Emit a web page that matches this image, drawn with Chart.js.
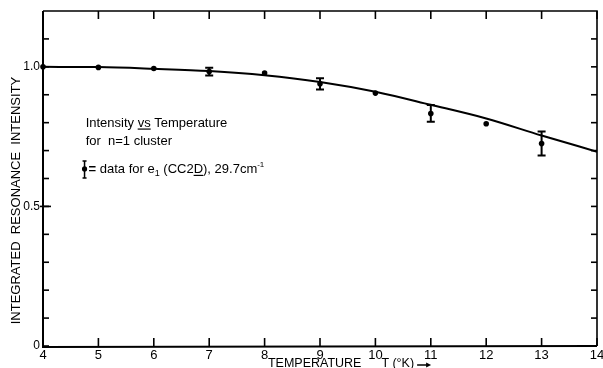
<!DOCTYPE html>
<html>
<head>
<meta charset="utf-8">
<script src="https://cdn.jsdelivr.net/npm/chart.js@4/dist/chart.umd.min.js"></script>
<style>
  html, body { margin: 0; padding: 0; background: #fff; }
  canvas { display: block; }
</style>
</head>
<body>
<canvas id="c" width="603" height="368"></canvas>
<script>
// ---- data ----
const temperatures = [4, 5, 6, 7, 8, 9, 10, 11, 12, 13];
const intensities  = [1.0, 0.998, 0.994, 0.983, 0.978, 0.939, 0.906, 0.833, 0.796, 0.725];
const errors       = [0, 0, 0, 0.014, 0, 0.02, 0, 0.03, 0, 0.043];
const curveT       = [4, 5, 6, 7, 8, 9, 10, 11, 12, 13, 14];
const curveI       = [1.0, 0.999, 0.993, 0.985, 0.970, 0.946, 0.911, 0.864, 0.815, 0.754, 0.696];
const xTickValues  = [4, 5, 6, 7, 8, 9, 10, 11, 12, 13, 14];
const yLabelMap    = { "0": "0", "0.5": "0.5", "1": "1.0" };

const FONT = "'Liberation Sans', Arial, sans-serif";

const framePlugin = {
  id: 'frame',
  afterDraw(chart) {
    const ctx = chart.ctx;
    const xs = chart.scales.x, ys = chart.scales.y;
    const a = chart.chartArea;
    ctx.save();
    ctx.strokeStyle = '#000';
    ctx.lineCap = 'butt';
    // frame
    ctx.lineWidth = 1.6;
    ctx.beginPath();
    ctx.moveTo(a.left, a.top); ctx.lineTo(a.right, a.top); ctx.lineTo(a.right, a.bottom);
    ctx.stroke();
    ctx.lineWidth = 2;
    ctx.beginPath();
    ctx.moveTo(a.left, a.top); ctx.lineTo(a.left, a.bottom + 1); ctx.lineTo(a.right, a.bottom);
    ctx.stroke();
    // x ticks (bottom and top, inward)
    ctx.lineWidth = 1.6;
    xTickValues.forEach(v => {
      const px = xs.getPixelForValue(v);
      ctx.beginPath(); ctx.moveTo(px, a.bottom); ctx.lineTo(px, a.bottom - 8); ctx.stroke();
      ctx.beginPath(); ctx.moveTo(px, a.top); ctx.lineTo(px, a.top + 8); ctx.stroke();
    });
    // y ticks (left and right, inward)
    ys.ticks.forEach(t => {
      const py = ys.getPixelForValue(t.value);
      if (t.value > 1.15) return;
      ctx.beginPath(); ctx.moveTo(a.left, py); ctx.lineTo(a.left + 6, py); ctx.stroke();
      ctx.beginPath(); ctx.moveTo(a.right, py); ctx.lineTo(a.right - 6, py); ctx.stroke();
      if (Math.abs(t.value - 0.5) < 1e-6) {
        ctx.beginPath(); ctx.moveTo(a.left - 3, py); ctx.lineTo(a.left + 8, py); ctx.stroke();
      }
    });
    // error bars
    ctx.lineWidth = 2;
    temperatures.forEach((t, i) => {
      if (!errors[i]) return;
      const px = xs.getPixelForValue(t);
      const y1 = ys.getPixelForValue(intensities[i] + errors[i]);
      const y2 = ys.getPixelForValue(intensities[i] - errors[i]);
      ctx.beginPath();
      ctx.moveTo(px, y1); ctx.lineTo(px, y2);
      ctx.moveTo(px - 4, y1); ctx.lineTo(px + 4, y1);
      ctx.moveTo(px - 4, y2); ctx.lineTo(px + 4, y2);
      ctx.stroke();
    });

    // annotation text
    ctx.fillStyle = '#000';
    ctx.textBaseline = 'alphabetic';
    ctx.textAlign = 'left';
    const tx = xs.getPixelForValue(4.77);
    ctx.font = '13px ' + FONT;
    let y1 = ys.getPixelForValue(0.786);
    let s1 = 'Intensity ';
    ctx.fillText(s1, tx, y1);
    let w = ctx.measureText(s1).width;
    ctx.fillText('vs', tx + w, y1);
    const wvs = ctx.measureText('vs').width;
    ctx.lineWidth = 1.2;
    ctx.beginPath(); ctx.moveTo(tx + w, y1 + 2.5); ctx.lineTo(tx + w + wvs, y1 + 2.5); ctx.stroke();
    ctx.fillText(' Temperature', tx + w + wvs, y1);

    let y2 = ys.getPixelForValue(0.72);
    ctx.fillText('for  n=1 cluster', tx, y2);

    // legend line
    let y3 = ys.getPixelForValue(0.62);
    const sx = xs.getPixelForValue(4.75);
    ctx.lineWidth = 1.5;
    ctx.beginPath();
    ctx.moveTo(sx, y3 - 12); ctx.lineTo(sx, y3 + 5);
    ctx.moveTo(sx - 2, y3 - 12); ctx.lineTo(sx + 2, y3 - 12);
    ctx.moveTo(sx - 2, y3 + 5); ctx.lineTo(sx + 2, y3 + 5);
    ctx.stroke();
    ctx.beginPath(); ctx.arc(sx, y3 - 4, 2.6, 0, Math.PI * 2); ctx.fill();
    let cx = sx + 4;
    ctx.font = 'bold 13px ' + FONT;
    ctx.fillText('=', cx, y3);
    cx += ctx.measureText('= ').width;
    ctx.font = '13px ' + FONT;
    const put = (s, dy, f) => { ctx.font = f || ('13px ' + FONT); ctx.fillText(s, cx, y3 + (dy || 0)); const ww = ctx.measureText(s).width; cx += ww; return ww; };
    put('data for e');
    put('1', 3, '9px ' + FONT);
    put(' (CC2');
    const dStart = cx;
    const dw = put('D');
    ctx.lineWidth = 1.2;
    ctx.beginPath(); ctx.moveTo(dStart, y3 + 2.5); ctx.lineTo(dStart + dw, y3 + 2.5); ctx.stroke();
    put('), 29.7cm');
    put('-1', -6, '8px ' + FONT);

    // y axis title
    ctx.save();
    ctx.translate(16, (a.top + a.bottom) / 2 + 22);
    ctx.rotate(-Math.PI / 2);
    ctx.font = '13px ' + FONT;
    ctx.textAlign = 'center';
    ctx.textBaseline = 'middle';
    ctx.fillText('INTEGRATED  RESONANCE  INTENSITY', 0, 0);
    ctx.restore();

    // x axis title
    ctx.font = '12.5px ' + FONT;
    ctx.textAlign = 'left';
    ctx.textBaseline = 'alphabetic';
    const bx = xs.getPixelForValue(8.06);
    const by = a.bottom + 21;
    ctx.fillText('TEMPERATURE', bx, by);
    const tw = ctx.measureText('TEMPERATURE').width;
    ctx.fillText('T', bx + tw + 20, by);
    ctx.fillText('(°K)', bx + tw + 31, by);
    const ax = bx + tw + 31 + ctx.measureText('(°K)').width + 3;
    ctx.lineWidth = 1.5;
    ctx.beginPath(); ctx.moveTo(ax, by - 2); ctx.lineTo(ax + 12, by - 2); ctx.stroke();
    ctx.beginPath(); ctx.moveTo(ax + 14, by - 2); ctx.lineTo(ax + 9, by - 4.5); ctx.lineTo(ax + 9, by + 0.5); ctx.closePath(); ctx.fill();
    ctx.restore();
  }
};

new Chart(document.getElementById('c'), {
  type: 'line',
  data: {
    datasets: [
      {
        type: 'line',
        data: curveT.map((t, i) => ({ x: t, y: curveI[i] })),
        borderColor: '#000',
        borderWidth: 2,
        pointRadius: 0,
        cubicInterpolationMode: 'monotone',
        fill: false
      },
      {
        type: 'scatter',
        data: temperatures.map((t, i) => ({ x: t, y: intensities[i] })),
        backgroundColor: '#000',
        borderColor: '#000',
        pointRadius: 2.8,
        borderWidth: 0,
        clip: false
      }
    ]
  },
  options: {
    responsive: false,
    devicePixelRatio: 1,
    animation: false,
    layout: { padding: { left: 0, right: 6, top: 11, bottom: 0 } },
    plugins: { legend: { display: false }, tooltip: { enabled: false } },
    scales: {
      x: {
        type: 'linear',
        min: 4, max: 14,
        grid: { display: false, drawTicks: false },
        border: { display: false },
        ticks: {
          stepSize: 1,
          padding: 2,
          color: '#000',
          font: { family: FONT, size: 13 },
          maxRotation: 0,
          autoSkip: false
        },
        afterFit(s) { s.height = 22; s.paddingLeft = 0; s.paddingRight = 0; }
      },
      y: {
        type: 'linear',
        min: 0, max: 1.2,
        grid: { display: false, drawTicks: false },
        border: { display: false },
        ticks: {
          stepSize: 0.1,
          padding: 3,
          color: '#000',
          font: { family: FONT, size: 12 },
          autoSkip: false,
          callback(v) {
            const r = Math.round(v * 10) / 10;
            return yLabelMap[String(r)] || '';
          }
        },
        afterFit(s) { s.width = 43; s.paddingTop = 0; s.paddingBottom = 0; }
      }
    }
  },
  plugins: [framePlugin]
});
</script>
</body>
</html>
